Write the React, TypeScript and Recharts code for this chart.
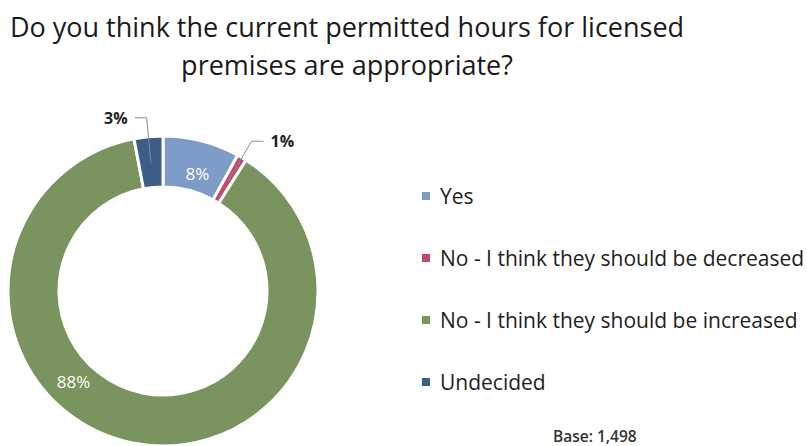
import React from "react";
import { PieChart, Pie, Cell, Legend } from "recharts";

const categories = ["Yes", "No - I think they should be decreased", "No - I think they should be increased", "Undecided"];
const shares = [8, 1, 88, 3];
const colors = ["#7d9cc8", "#c04a70", "#7a9460", "#3b5d88"];
const outsideLabel = [false, true, false, true];

const data = categories.map((name, i) => ({ name, value: shares[i] }));

const FONT = "'Open Sans', 'DejaVu Sans', sans-serif";
const RAD = Math.PI / 180;

function renderLabel(props: any) {
  const { cx, cy, midAngle, index, value } = props;
  const text = `${value}%`;
  if (outsideLabel[index]) {
    const a = -midAngle * RAD;
    const sx = cx + 128 * Math.cos(a);
    const sy = cy + 128 * Math.sin(a);
    const ex = cx + 174 * Math.cos(a);
    const ey = cy + 174 * Math.sin(a);
    const dir = Math.cos(a) >= 0 ? 1 : -1;
    const hx = ex + dir * 12;
    return (
      <g>
        <polyline points={`${sx},${sy} ${ex},${ey} ${hx},${ey}`} fill="none" stroke="#8c8c8c" strokeWidth={1} />
        <text x={hx + dir * 7} y={ey} textAnchor={dir > 0 ? "start" : "end"} dominantBaseline="central"
          fill="#222" fontFamily={FONT} fontSize={16} fontWeight={700}>{text}</text>
      </g>
    );
  }
  // Excel places the big slice label away from its mid angle
  const ang = index === 2 ? midAngle - 34 : midAngle - 2;
  const r = index === 2 ? 127 : 122;
  const x = cx + r * Math.cos(-ang * RAD);
  const y = cy + r * Math.sin(-ang * RAD);
  return (
    <text x={x} y={y} textAnchor="middle" dominantBaseline="central" fill="#ffffff"
      fontFamily={FONT} fontSize={17}>{text}</text>
  );
}

function LegendContent() {
  return (
    <div style={{ fontFamily: FONT }}>
      {categories.map((c, i) => (
        <div key={c} style={{ display: "flex", alignItems: "center", height: 62 }}>
          <span style={{ width: 8, height: 8, background: colors[i], marginRight: 10, display: "inline-block" }} />
          <span style={{ fontSize: 21, color: "#1e1e1e", whiteSpace: "nowrap" }}>{c}</span>
        </div>
      ))}
    </div>
  );
}

export default function App() {
  return (
    <div style={{ position: "absolute", left: 0, top: 0, width: 807, height: 446, background: "#fff", overflow: "hidden" }}>
      <div style={{ position: "absolute", left: 0, top: 8, width: 694, textAlign: "center", fontFamily: FONT, fontSize: 27, lineHeight: "38px", color: "#1a1a1a", whiteSpace: "nowrap" }}>
        Do you think the current permitted hours for licensed<br />premises are appropriate?
      </div>
      <PieChart width={807} height={446}>
        <Pie data={data} dataKey="value" nameKey="name" cx={158} cy={286} innerRadius={104} outerRadius={155}
          startAngle={90} endAngle={-270} stroke="#ffffff" strokeWidth={3} label={renderLabel} labelLine={false}
          isAnimationActive={false}>
          {data.map((d, i) => <Cell key={d.name} fill={colors[i]} />)}
        </Pie>
        <Legend layout="vertical" content={<LegendContent />}
          wrapperStyle={{ position: "absolute", left: 422, top: 165, width: 390 }} />
      </PieChart>
      <div style={{ position: "absolute", left: 553, top: 428, fontFamily: FONT, fontSize: 15.5, lineHeight: "17px", fontWeight: 600, color: "#333", whiteSpace: "nowrap" }}>
        Base: 1,498
      </div>
    </div>
  );
}
